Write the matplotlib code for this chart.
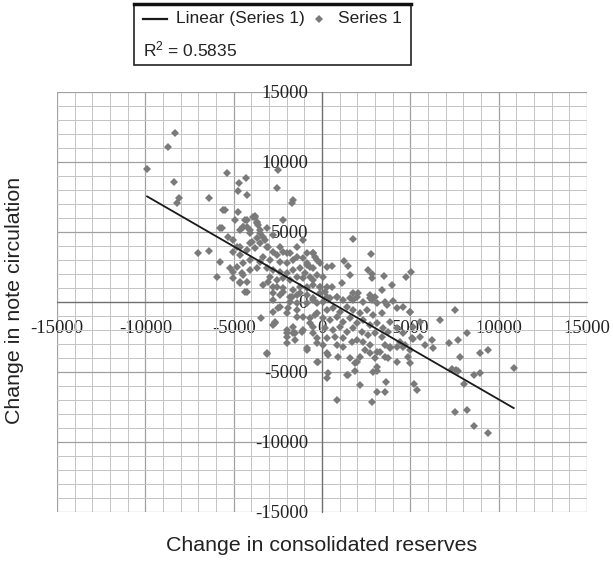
import matplotlib
matplotlib.use('Agg')
import matplotlib.pyplot as plt
from matplotlib.lines import Line2D
from matplotlib.patches import Rectangle
from matplotlib.ticker import MultipleLocator
import numpy as np

# change in consolidated reserves (x) / change in note circulation (y)
reserves = [
    # far upper-left
    -8300, -8700, -9900, -8400, -8070, -8190, -6400, -5360, -4700, -4300,
    -4770, -4240, -5620, -5500, -4740, -4240, -3790, -3660, -4450, -5770,
    -7000, -6400, -5770, -5960, -5200, -5020, -4640, -4260, -4540, -2560,
    -2470, -1620, -1710, -2190,
    # upper cluster
    -5680, -5300, -5020, -4830, -4450, -4070, -3890, -3700, -3510, -3230,
    -3040, -2760, -3130, -3600, -4070, -4640, -2380, -2000, -1430, -1060,
    -1620, -490, -870,
    # core, left of zero
    -4920, -4360, -3790, -4260, -4640, -4080, -3510, -3700, -3320, -3980,
    -3510, -3130, -3790, -4260, -4640, -5020, -2750, -2570, -2190, -1810,
    -1430, -1060, -490, -300, -2380, -2000, -2940, -3320, -3510, -4080,
    -4450, -4830, -5020, -4450, -4080, -3700, -3130, -2750, -2380, -2000,
    -1620, -1240, -870, -490, -110, 260, -2940, -2570, -2190, -1810,
    -1430, -1060, -680, -300, 80, -4640, -4260, -4360, -3320, -2750,
    -2190, -1620, -1240, -870, -490, -110, 260, -2380, -1810, -1430,
    -870, -490, -110, 260, -1810, -1430, -870, -300, -870, -400,
    # below the core
    -3040, -2560, -2190, -1720, -1250, -870, -490, -2760, -2380, -2000,
    -1430, -1060, -680, -300, -2000, -1530, -1060, -490, -300,
    -2760, -2660, -2000, -2000, -1530, -2760, -3130, -2760, -1620, -2000,
    -870, -300, -1150, -3450, -3100, -2660, -870, -270, 70, 270,
    -2470, -1900, -1430, -680, -400, -490, -1620,
    # core, right of zero
    80, 450, 830, 1210, 1590, 1960, 2340, 2720, 3090, 3570,
    4040, 260, 640, 1020, 1400, 1770, 2150, 2530, 2910, 3380,
    3660, 4230, 4600, 4980, 80, 450, 830, 1210, 1590, 1960,
    2340, 2720, 3090, 3470, 3850, 170, 640, 1020, 1400, 1770,
    2250, 2620, 3000, 3380, 3760, 4230, 4600, 5170, 5550, 260,
    740, 1210, 1680, 1960, 2340, 2720, 3570, 3850, 4420, 4700,
    5080, 5550, 4230, 3280, 3000, 360, 920, 1960, 3090, 2910,
    260, 1400, 2150,
    -680, -960, -490, -110, 170, 550, 1110, 1770, 830, 2810,
    # right side
    1740, 2770, 550, 1250, 1490, 1580, 2620, 2810, 2850, 3530,
    3940, 3380, 4750, 5040, 2050, 2720, 3000, 1770, 4980, 6680,
    7500, 8190, 5170, 5830, 6200, 6270, 7200, 7720, 4980, 4600,
    7810, 8920, 9410, 4980, 4880, 4230, 3570, 3750, 3100, 3850,
    7340, 7600, 7720, 8580, 8940, 8020, 10850, 5230, 5360, 3100,
    3570, 3620, 2810, 3100, 1870, 1490, 830, 360, -210, 7530,
    8200, 8580, 9410, 2150, 1870, 1580, 2720, 2430, 1200, 830,
]
circulation = [
    12100, 11100, 9500, 8550, 7400, 7050, 7450, 9240, 8500, 8880,
    7930, 7660, 6600, 6600, 6420, 5860, 6140, 5620, 5330, 5300,
    3520, 3670, 2880, 1810, 2450, 1690, 1330, 740, 2050, 8120,
    9430, 7290, 7050, 5860,
    5260, 4670, 4430, 3950, 5380, 5140, 6100, 5740, 4900, 4430,
    3950, 4790, 5260, 5500, 4190, 3360, 3950, 3480, 3950, 4430,
    3000, 3480, 2760,
    5860, 5860, 6100, 5380, 5140, 4900, 5140, 4550, 4670, 4310,
    4190, 3950, 3830, 3710, 3950, 3600, 3600, 3360, 3600, 3480,
    3240, 3120, 3480, 3000, 2880, 2760, 3000, 3240, 2880, 3000,
    2760, 2520, 2170, 1930, 2290, 2400, 2400, 2290, 2170, 2050,
    2290, 2400, 2640, 2400, 2760, 2520, 1810, 1570, 1690, 1570,
    1810, 1690, 1810, 1930, 1810, 1450, 1450, 740, 1210, 1100,
    980, 860, 1100, 980, 1210, 1100, 1100, 500, 380, 500,
    500, 260, 620, 380, 20, -100, -100, -100, 3480, 3240,
    1450, 1100, 740, 380, 620, 1100, 140, 140, -330, -810,
    -570, -1050, -1520, -810, -2240, -2710, -2000, -2240, -2950,
    -690, -1520, -2000, -2480, -2240, 620, -3670, -1640, -2240, -2950,
    -3310, -4260, -2120, -1170, -3740, -1400, -3430, -2600, -3070, -3670,
    -450, -450, -1050, -1170, -930, -1760, -1760,
    20, 260, 380, 140, 260, 380, 20, 260, -100, 20,
    70, -570, -450, -690, -330, -570, -810, -570, -930, -810,
    -210, -450, -330, -690, -1170, -1290, -1050, -1400, -1170, -1520,
    -1290, -1640, -1520, -1880, -1400, -1880, -2000, -1760, -2120, -1880,
    -2120, -2360, -2240, -2480, -2120, -1880, -2240, -1760, -1400, -2600,
    -2480, -2600, -2830, -2710, -2830, -3070, -3070, -3310, -2830, -3070,
    -2600, -2480, -3190, -3550, -4020, -3790, -3900, -4260, -4620, -4980,
    -5450, -5210, -5930,
    2520, 2050, 1570, 1100, 740, 1100, 1330, 620, 380, 140,
    4500, 3400, 2570, 2930, 2570, 1930, 2290, 2000, 1690, 1860,
    1210, 860, 1810, 2120, 670, 500, 380, 140, -750, -1300,
    -570, -2200, -2650, -3100, -2700, -3310, -2900, -2730, -3430, -3190,
    -3950, -3670, -3450, -4380, -3900, -4260, -3900, -3980, -3550, -3190,
    -4780, -4860, -4900, -5230, -5070, -5850, -4740, -5830, -6310, -6400,
    -6400, -5690, -7120, -4930, -4930, -5210, -7000, -5050, -4260, -7850,
    -7710, -8860, -9380, -3900, -4380, -4020, -3670, -3430, -3190, -3070,
]
r_squared = 0.5835
axis_ticks = [-15000, -10000, -5000, 0, 5000, 10000, 15000]

reserves = np.array(reserves)
circulation = np.array(circulation)

plt.rcParams['mathtext.default'] = 'regular'
plt.rcParams['axes.unicode_minus'] = False
fig = plt.figure(figsize=(6.13, 5.62), dpi=100)
ax = fig.add_axes([0.093, 0.089, 0.8646, 0.7473])

ax.set_xlim(-15000, 15000)
ax.set_ylim(-15000, 15000)
ax.set_xticks(axis_ticks)
ax.set_yticks(axis_ticks)
ax.xaxis.set_minor_locator(MultipleLocator(1000))
ax.yaxis.set_minor_locator(MultipleLocator(1000))
ax.grid(which='minor', color='#c4c4c4', linewidth=0.7)
ax.grid(which='major', color='#a0a0a0', linewidth=0.9)
ax.set_axisbelow(True)

for s in ['top', 'right']:
    ax.spines[s].set_visible(False)
ax.spines['left'].set_position(('data', 0))
ax.spines['bottom'].set_position(('data', 0))
for s in ['left', 'bottom']:
    ax.spines[s].set_color('#707070')
    ax.spines[s].set_linewidth(0.9)

ax.tick_params(which='both', length=0)
ax.tick_params(axis='x', pad=13)
ax.tick_params(axis='y', pad=10)
for lab in ax.get_xticklabels() + ax.get_yticklabels():
    lab.set_fontfamily('Liberation Serif')
    lab.set_fontsize(13.5)
    lab.set_color('#222222')

# points and linear trend
ax.plot(reserves, circulation, linestyle='none', marker='D', markersize=4.2,
        color='#7a7a7a', markeredgewidth=0, zorder=3)
slope, intercept = np.polyfit(reserves, circulation, 1)
xs = np.array([reserves.min(), reserves.max()])
ax.plot(xs, slope * xs + intercept, color='#1a1a1a', linewidth=1.3, zorder=4)

fig.text(0.524, 0.030, 'Change in consolidated reserves', ha='center', va='center',
         fontsize=15.4, family='Liberation Sans', color='#222222')
fig.text(0.023, 0.466, 'Change in note circulation', ha='center', va='center',
         rotation=90, fontsize=15.4, family='Liberation Sans', color='#222222')

# legend box
fig.patches.append(Rectangle((0.2186, 0.8843), 0.4519, 0.1085, transform=fig.transFigure,
                             facecolor='white', edgecolor='#222222', linewidth=1.2))
fig.add_artist(Line2D([0.2186, 0.6705], [0.9929, 0.9929], color='#111111',
                      linewidth=2.5, transform=fig.transFigure))
fig.add_artist(Line2D([0.2333, 0.2724], [0.9662, 0.9662], color='#1a1a1a',
                      linewidth=1.6, transform=fig.transFigure))
fig.text(0.287, 0.9662, 'Linear (Series 1)', ha='left', va='center',
         fontsize=12.5, family='Liberation Sans', color='#222222')
fig.add_artist(Line2D([0.5204], [0.9662], marker='D', markersize=4.2, color='#7a7a7a',
                      markeredgewidth=0, transform=fig.transFigure))
fig.text(0.5514, 0.9662, 'Series 1', ha='left', va='center',
         fontsize=12.5, family='Liberation Sans', color='#222222')
fig.text(0.2333, 0.9128, 'R$^2$ = %.4f' % r_squared, ha='left', va='center',
         fontsize=12.5, family='Liberation Sans', color='#222222')

fig.savefig('out.png', dpi=100)
